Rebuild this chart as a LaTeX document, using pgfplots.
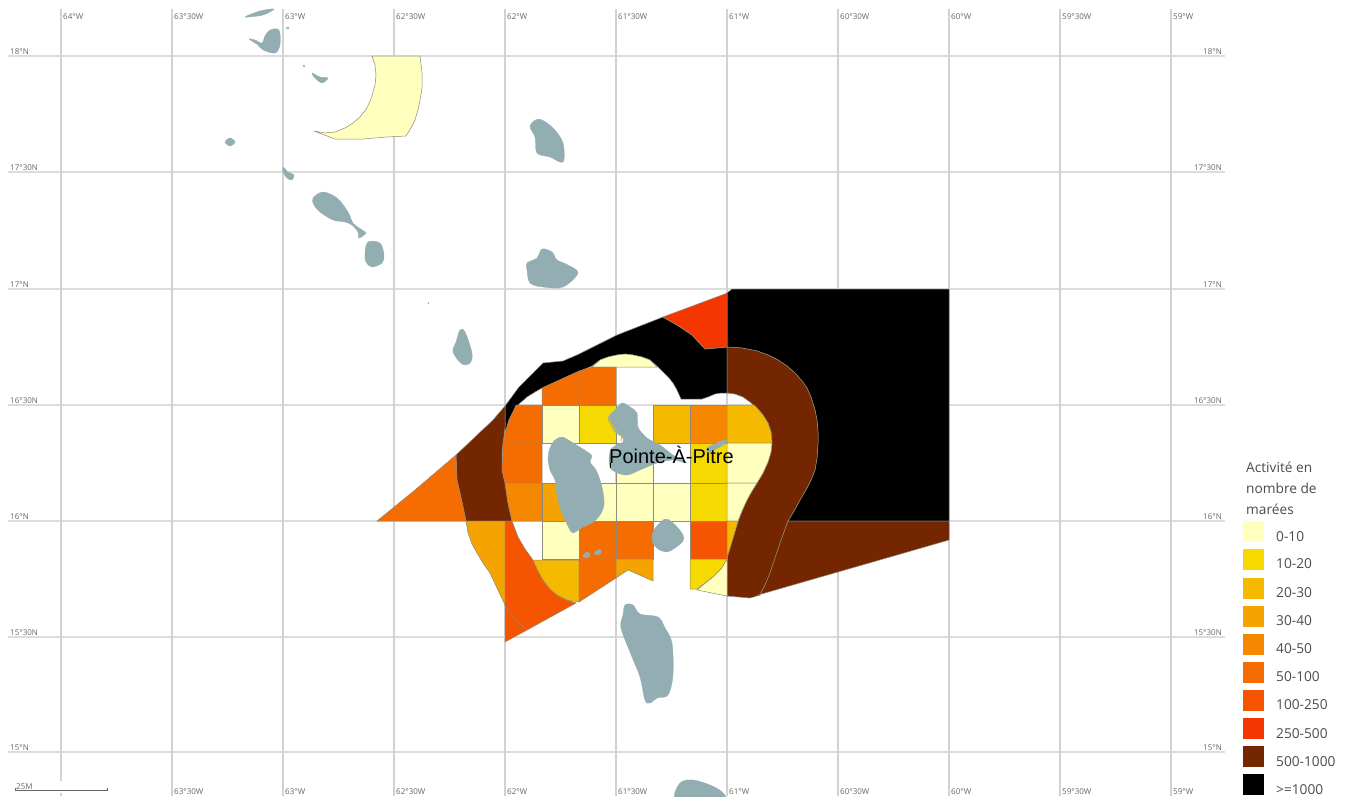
\documentclass[border=0pt]{standalone}
\usepackage{fontspec}
\setmainfont{Open Sans}
\newfontfamily\labelfont{Liberation Sans}
\usepackage{pgfplots}
\pgfplotsset{compat=1.18}

% legend classes
\definecolor{c0}{HTML}{FFFFBE}
\definecolor{c10}{HTML}{F5D900}
\definecolor{c20}{HTML}{F5B900}
\definecolor{c30}{HTML}{F5A300}
\definecolor{c40}{HTML}{F58800}
\definecolor{c50}{HTML}{F56C00}
\definecolor{c100}{HTML}{F55500}
\definecolor{c250}{HTML}{F53600}
\definecolor{c500}{HTML}{732600}
\definecolor{c1000}{HTML}{000000}
\definecolor{land}{HTML}{93AEB3}
\definecolor{gridv}{HTML}{D2D2D2}
\definecolor{gridh}{HTML}{DCDCDC}
\definecolor{outl}{HTML}{8F8A7A}
\definecolor{graticule}{HTML}{666666}

\newcommand{\region}[2]{\addplot[fill=#1,draw=outl,line width=0.5pt,mark=none] coordinates {#2} -- cycle;}
\newcommand{\island}[1]{\addplot[fill=land,draw=land,line width=0.3pt,mark=none,smooth cycle,tension=0.55] coordinates {#1};}
\newcommand{\swatch}[3]{\addplot[fill=#1,draw=none,mark=none] coordinates {(1243,#2)(1264,#2)(1264,#3)(1243,#3)} -- cycle;}
\newcommand{\lab}[3]{\node[anchor=base west,font=\fontsize{8}{8}\selectfont,text=graticule,inner sep=0pt] at (axis cs:#1,#2) {#3};}
\newcommand{\labr}[3]{\node[anchor=base east,font=\fontsize{8}{8}\selectfont,text=graticule,inner sep=0pt] at (axis cs:#1,#2) {#3};}
\newcommand{\leg}[2]{\node[anchor=base west,font=\fontsize{13.7}{14}\selectfont,text=black!70,inner sep=0pt] at (axis cs:1276,#1) {#2};}

\begin{document}
\begin{tikzpicture}
\begin{axis}[
    scale only axis,
    width=1346pt,
    height=796pt,
    xmin=0, xmax=1346,
    ymin=0, ymax=796,
    y dir=reverse,
    hide axis
    ]
% page
\addplot[fill=white,draw=none,mark=none] coordinates {(0,0)(1346,0)(1346,796)(0,796)} -- cycle;

% graticule
\addplot[gridh,line width=1.3pt,mark=none] coordinates {(8,56)(1225,56)};
\addplot[gridh,line width=1.3pt,mark=none] coordinates {(8,172)(1225,172)};
\addplot[gridh,line width=1.3pt,mark=none] coordinates {(8,289)(1225,289)};
\addplot[gridh,line width=1.3pt,mark=none] coordinates {(8,405)(1225,405)};
\addplot[gridh,line width=1.3pt,mark=none] coordinates {(8,521)(1225,521)};
\addplot[gridh,line width=1.3pt,mark=none] coordinates {(8,637)(1225,637)};
\addplot[gridh,line width=1.3pt,mark=none] coordinates {(8,752)(1225,752)};
\addplot[gridv,line width=1.3pt,mark=none] coordinates {(61,9)(61,781)};
\addplot[gridv,line width=1.3pt,mark=none] coordinates {(61,793)(61,796)};
\addplot[gridv,line width=1.3pt,mark=none] coordinates {(172,9)(172,796)};
\addplot[gridv,line width=1.3pt,mark=none] coordinates {(283,9)(283,796)};
\addplot[gridv,line width=1.3pt,mark=none] coordinates {(394,9)(394,796)};
\addplot[gridv,line width=1.3pt,mark=none] coordinates {(505,9)(505,796)};
\addplot[gridv,line width=1.3pt,mark=none] coordinates {(616,9)(616,796)};
\addplot[gridv,line width=1.3pt,mark=none] coordinates {(727,9)(727,796)};
\addplot[gridv,line width=1.3pt,mark=none] coordinates {(838,9)(838,796)};
\addplot[gridv,line width=1.3pt,mark=none] coordinates {(949,9)(949,796)};
\addplot[gridv,line width=1.3pt,mark=none] coordinates {(1060,9)(1060,796)};
\addplot[gridv,line width=1.3pt,mark=none] coordinates {(1171,9)(1171,796)};

% crescent in the north
\region{c0}{(372,56)(420,56)(422,73)(422,88)(420,100)(418,110)(415,120)(411,128)(406,136)(387,137)(363,139)(335,139)(314,131)(325,133)(335,132)(345,128)(353,123)(360,117)(367,108)(372,96)(375,85)(376,75)(375,65)}

% black areas
\region{c1000}{(505,406)(519,387)(543,363)(563,361)(577,355)(617,335)(663,317)(677,325)(692,335)(705,349)(727,347)(727,393)(721,393)(715,394)(708,397)(702,399)(681,399)(677,390)(673,383)(669,378)(663,372)(657,366)(650,360)(642,357)(633,355)(625,354)(617,355)(608,357)(600,360)(592,366)(578,372)(542,388)(535,392)(527,397)(519,404)(513,412)(509,420)(506,430)(505,440)}
\region{c1000}{(727,347)(727,293)(732,289)(949,289)(949,521)(788,521)(794,511)(800,500)(807,488)(811,480)(815,470)(817,458)(818,443)(818,432)(817,420)(815,410)(811,397)(807,388)(802,381)(795,373)(787,366)(778,360)(768,355)(757,351)(742,348)}
\region{c0}{(592,367)(600,360)(608,357)(617,355)(625,354)(633,355)(642,357)(650,360)(657,367)}
\region{c250}{(663,317)(677,325)(692,335)(705,349)(727,347)(727,293)(722,295)}

% brown ring and south east
\region{c500}{(727,347)(742,348)(757,351)(768,355)(778,360)(787,366)(795,373)(802,381)(807,388)(811,397)(815,410)(817,420)(818,432)(818,443)(817,458)(815,470)(811,480)(807,488)(800,500)(794,511)(788,521)(780,543)(770,573)(765,585)(760,595)(750,598)(727,596)(727,558)(733,538)(738,522)(742,511)(747,500)(752,491)(757,483)(763,473)(768,462)(771,452)(772,443)(771,432)(768,423)(763,415)(757,408)(750,402)(743,397)(735,394)(727,393)}
\region{c500}{(788,521)(949,521)(949,540)(758,595)(760,595)(765,585)(770,573)(780,543)}

% west side
\region{c500}{(505,406)(493,420)(456,455)(457,480)(460,493)(466,521)(512,521)(508,503)(505,483)(502,470)(502,453)(505,427)}
\region{c50}{(377,521)(415,490)(456,455)(457,480)(460,493)(466,521)}
\region{c30}{(466,521)(505,521)(505,605)(497,588)(490,573)(483,563)(477,553)(472,544)(468,533)}
\region{c100}{(505,521)(512,521)(518,537)(525,549)(533,560)(538,571)(543,580)(550,589)(557,595)(567,600)(576,603)(527,630)(505,642)}
\addplot[outl,line width=0.5pt,mark=none] coordinates {(505,605)(515,620)(527,630)};

% grid cells
\region{c50}{(542,388)(579,371)(579,405)(542,405)}
\region{c50}{(579,371)(592,367)(616,367)(616,405)(579,405)}
\region{c50}{(516,405)(542,405)(542,443)(503,443)(506,430)(509,420)(513,412)}
\region{c0}{(542,405)(579,405)(579,443)(542,443)}
\region{c10}{(579,405)(616,405)(616,443)(579,443)}
\region{c20}{(653,405)(690,405)(690,443)(653,443)}
\region{c40}{(690,405)(727,405)(727,443)(690,443)}
\region{c20}{(727,405)(754,405)(757,408)(763,415)(768,423)(771,432)(772,443)(727,443)}
\region{c50}{(503,443)(542,443)(542,483)(505,483)(502,470)}
\region{c0}{(616,443)(653,443)(653,483)(616,483)}
\region{c10}{(690,443)(727,443)(727,483)(690,483)}
\region{c0}{(727,443)(772,443)(771,452)(768,462)(763,473)(757,483)(727,483)}
\region{c40}{(505,483)(542,483)(542,521)(512,521)(508,503)}
\region{c30}{(542,483)(579,483)(579,521)(542,521)}
\region{c0}{(579,483)(616,483)(616,521)(579,521)}
\region{c0}{(616,483)(653,483)(653,521)(616,521)}
\region{c0}{(653,483)(690,483)(690,521)(653,521)}
\region{c10}{(690,483)(727,483)(727,521)(690,521)}
\region{c0}{(727,483)(757,483)(752,491)(747,500)(742,511)(738,521)(727,521)}
\region{c0}{(542,521)(579,521)(579,559)(542,559)}
\region{c50}{(579,521)(616,521)(616,559)(579,559)}
\region{c50}{(616,521)(653,521)(653,559)(616,559)}
\region{c100}{(690,521)(727,521)(727,559)(690,559)}
\region{c20}{(727,521)(738,521)(733,538)(727,558)}
\region{c20}{(533,560)(579,560)(579,602)(567,600)(557,595)(550,589)(543,580)(538,571)}
\region{c50}{(579,559)(616,559)(616,578)(579,602)}
\region{c30}{(616,559)(653,559)(653,581)(628,570)(616,578)}
\region{c10}{(690,559)(727,559)(722,568)(713,577)(697,589)(690,589)}
\region{c0}{(697,590)(713,577)(722,568)(727,559)(727,596)}

% islands
\island{(245,17)(260,11)(274,9)(263,15)}
\island{(249,39)(255,40)(262,43)(265,36)(270,30)(279,30)(280,45)(275,53)(263,50)(258,45)}
\island{(286,28)(289,27)(288,29)}
\island{(303,65)(305,66)(304,67)}
\island{(312,73)(320,77)(328,78)(322,83)(315,78)}
\island{(225,142)(230,138)(235,142)(230,146)}
\island{(283,167)(288,172)(294,175)(292,180)(287,178)(283,172)}
\island{(313,198)(323,192)(337,198)(348,212)(353,223)(362,230)(366,233)(359,238)(358,232)(352,225)(345,222)(333,220)(320,212)(314,205)}
\island{(365,253)(368,242)(380,243)(384,255)(382,263)(372,267)(366,262)}
\island{(428,302)(429,303)(428,304)}
\island{(460,330)(465,332)(472,353)(470,363)(462,364)(453,352)(456,342)}
\island{(530,126)(539,119)(553,128)(563,143)(563,162)(550,157)(537,153)(535,137)}
\island{(527,263)(537,258)(542,249)(552,252)(557,260)(568,265)(578,273)(563,287)(543,287)(530,283)(527,270)}
\island{(550,448)(555,440)(562,437)(570,441)(578,446)(586,451)(592,456)(590,462)(596,470)(600,480)(603,492)(604,505)(600,515)(592,523)(583,527)(573,533)(569,528)(565,520)(560,508)(557,495)(555,480)(550,470)(548,458)}
\island{(622,403)(630,407)(637,413)(638,427)(647,438)(660,445)(673,455)(687,463)(673,460)(657,463)(640,470)(627,475)(615,472)(610,467)(609,458)(612,448)(623,442)(622,437)(615,432)(610,423)(608,418)(615,410)}
\island{(707,448)(724,440)(726,443)(710,452)}
\island{(583,555)(588,552)(590,556)(585,558)}
\island{(594,553)(600,549)(601,553)(597,555)}
\island{(652,535)(656,527)(665,519)(672,522)(678,528)(683,535)(683,541)(675,548)(667,552)(658,549)(653,543)}
\island{(625,605)(633,605)(640,614)(658,617)(665,628)(672,643)(673,675)(668,695)(657,698)(650,703)(645,700)(640,677)(632,657)(621,628)(623,615)}
\island{(677,800)(680,783)(693,780)(710,785)(722,792)(723,800)}

% west coast of Grande-Terre and the mark beside it
\addplot[c20,line width=1pt,mark=none] coordinates {(609,417)(611,424)(616,431)(622,437)(621,441)};
\addplot[black,line width=1pt,mark=none] coordinates {(610,463)(610,468)};

% scale bar
\addplot[graticule,line width=0.8pt,mark=none] coordinates {(15,788)(15,790)(107,790)(107,788)};

% legend
\swatch{c0}{521}{542}
\swatch{c10}{549}{570}
\swatch{c20}{578}{599}
\swatch{c30}{606}{627}
\swatch{c40}{634}{655}
\swatch{c50}{662}{683}
\swatch{c100}{690}{711}
\swatch{c250}{718}{739}
\swatch{c500}{746}{767}
\swatch{c1000}{774}{795}

\leg{541}{0-10}
\leg{568}{10-20}
\leg{597}{20-30}
\leg{625}{30-40}
\leg{653}{40-50}
\leg{681}{50-100}
\leg{709}{100-250}
\leg{738}{250-500}
\leg{766}{500-1000}
\leg{794}{>=1000}
\node[anchor=base west,font=\fontsize{13.7}{14}\selectfont,text=black!70,inner sep=0pt] at (axis cs:1246,472) {Activité en};
\node[anchor=base west,font=\fontsize{13.7}{14}\selectfont,text=black!70,inner sep=0pt] at (axis cs:1246,493) {nombre de};
\node[anchor=base west,font=\fontsize{13.7}{14}\selectfont,text=black!70,inner sep=0pt] at (axis cs:1246,514) {marées};

% city
\node[anchor=base west,font=\labelfont\fontsize{20}{20}\selectfont,text=black,inner sep=0pt] at (axis cs:609,463) {Pointe-À-Pitre};

% graticule labels
\lab{63}{19}{64°W}\lab{174}{19}{63°30W}\lab{285}{19}{63°W}\lab{396}{19}{62°30W}\lab{507}{19}{62°W}\lab{618}{19}{61°30W}\lab{729}{19}{61°W}\lab{840}{19}{60°30W}\lab{951}{19}{60°W}\lab{1062}{19}{59°30W}\lab{1173}{19}{59°W}
\lab{174}{794}{63°30W}\lab{285}{794}{63°W}\lab{396}{794}{62°30W}\lab{507}{794}{62°W}\lab{618}{794}{61°30W}\lab{729}{794}{61°W}\lab{840}{794}{60°30W}\lab{951}{794}{60°W}\lab{1062}{794}{59°30W}\lab{1173}{794}{59°W}
\lab{10}{54}{18°N}\lab{10}{170}{17°30N}\lab{10}{287}{17°N}\lab{10}{403}{16°30N}\lab{10}{519}{16°N}\lab{10}{635}{15°30N}\lab{10}{750}{15°N}
\labr{1222}{54}{18°N}\labr{1222}{170}{17°30N}\labr{1222}{287}{17°N}\labr{1222}{403}{16°30N}\labr{1222}{519}{16°N}\labr{1222}{635}{15°30N}\labr{1222}{750}{15°N}
\lab{16}{789}{25M}
\end{axis}
\end{tikzpicture}
\end{document}
